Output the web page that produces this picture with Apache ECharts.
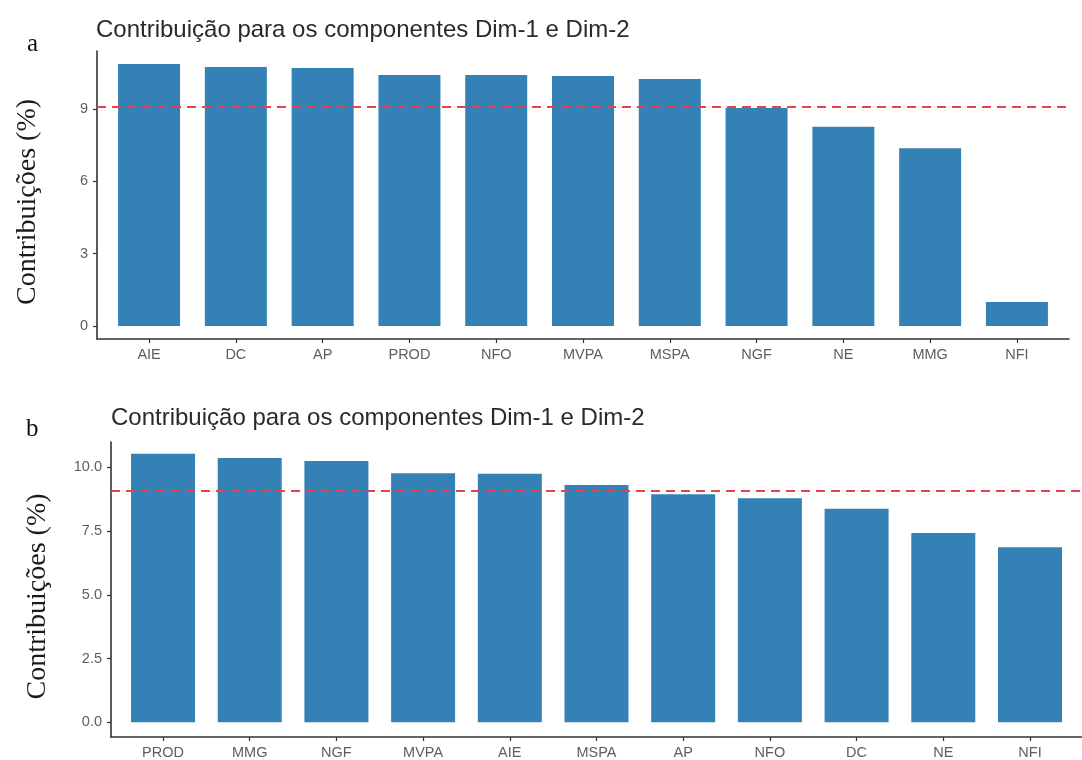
<!DOCTYPE html>
<html>
<head>
<meta charset="utf-8">
<script src="https://cdn.jsdelivr.net/npm/echarts@6/dist/echarts.min.js"></script>
<style>
html,body{margin:0;padding:0;background:#fff;}
#chart{width:1082px;height:760px;}
</style>
</head>
<body>
<div id="chart"></div>
<script>
// ---- data ----
const titleText = 'Contribuição para os componentes Dim-1 e Dim-2';
const yName = 'Contribuições (%)';
const catsA = ['AIE','DC','AP','PROD','NFO','MVPA','MSPA','NGF','NE','MMG','NFI'];
const valsA = [10.87,10.75,10.70,10.41,10.41,10.37,10.25,9.05,8.27,7.37,1.00];
const ticksA = [0,3,6,9];
const catsB = ['PROD','MMG','NGF','MVPA','AIE','MSPA','AP','NFO','DC','NE','NFI'];
const valsB = [10.54,10.37,10.25,9.77,9.75,9.31,8.95,8.79,8.38,7.43,6.87];
const ticksB = [0,2.5,5,7.5,10];
const refLine = 100/11;

const positions = catsA.map((c,i)=>i+1);

const barColor = '#3481b5';
const axisColor = '#333';
const labelColor = '#5e5e5e';

function xAxisFor(gridIndex, cats){
  return {
    type:'value', gridIndex, min:0.4, max:11.6,
    axisLine:{show:true, onZero:false, lineStyle:{color:axisColor,width:1.6}},
    axisTick:{show:true, customValues:positions, length:4, lineStyle:{color:axisColor,width:1.2}},
    axisLabel:{customValues:positions, formatter:v=>cats[Math.round(v)-1], color:labelColor, fontSize:14.5, fontFamily:'Liberation Sans', margin:8},
    splitLine:{show:false}
  };
}
function yAxisFor(gridIndex, min, max, ticks, fmt, gap){
  return {
    type:'value', gridIndex, min, max,
    name:yName, nameLocation:'middle', nameGap:gap,
    nameTextStyle:{fontFamily:'Liberation Serif', fontSize:28, color:'#1a1a1a', padding:[0,14,0,0]},
    axisLine:{show:true, onZero:false, lineStyle:{color:axisColor,width:1.6}},
    axisTick:{show:true, customValues:ticks, length:4, lineStyle:{color:axisColor,width:1.2}},
    axisLabel:{customValues:ticks, formatter:fmt, color:labelColor, fontSize:14.5, fontFamily:'Liberation Sans', margin:9},
    splitLine:{show:false}
  };
}
function barSeries(idx, vals, bw){
  return {
    type:'bar', xAxisIndex:idx, yAxisIndex:idx,
    data: vals.map((v,i)=>[positions[i], v]),
    barWidth:bw,
    itemStyle:{color:barColor},
    silent:true,
    markLine:{
      silent:true, symbol:['none','none'], label:{show:false},
      lineStyle:{color:'#e8414b', type:[9,6], width:2},
      data:[{yAxis:refLine}]
    }
  };
}

const titleStyle = {fontFamily:'Liberation Sans', fontSize:24, fontWeight:'normal', color:'#2a2a2a'};
const letterStyle = {fontFamily:'Liberation Serif', fontSize:25, fontWeight:'normal', color:'#111'};

const chart = echarts.init(document.getElementById('chart'), null, {renderer:'canvas'});
chart.setOption({
  animation:false,
  backgroundColor:'#fff',
  title:[
    {text:titleText, left:96, top:18, padding:0, textStyle:titleStyle},
    {text:titleText, left:111, top:406, padding:0, textStyle:titleStyle},
    {text:'a', left:27, top:32, padding:0, textStyle:letterStyle},
    {text:'b', left:26, top:417, padding:0, textStyle:letterStyle}
  ],
  grid:[
    {left:97, right:13, top:51, bottom:421},
    {left:111, right:-13.5, top:442, bottom:21}
  ],
  xAxis:[xAxisFor(0,catsA), xAxisFor(1,catsB)],
  yAxis:[
    yAxisFor(0,-0.54,11.41,ticksA,v=>String(v),55),
    yAxisFor(1,-0.58,11.0,ticksB,v=>v.toFixed(1),59)
  ],
  series:[barSeries(0,valsA,62), barSeries(1,valsB,64)]
});
</script>
</body>
</html>
